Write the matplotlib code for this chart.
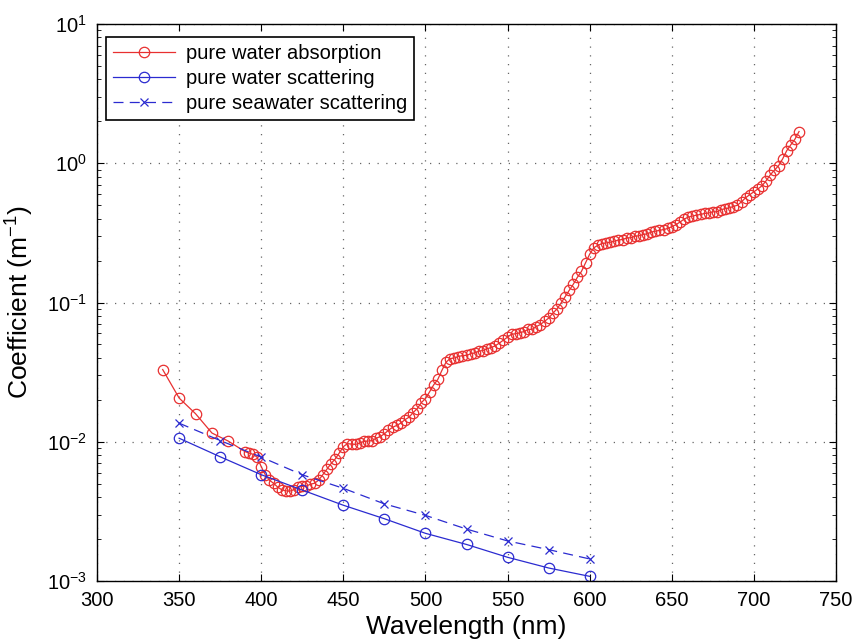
import matplotlib
matplotlib.use("Agg")
import matplotlib.pyplot as plt
import numpy as np

plt.rcParams['font.family'] = ['Liberation Sans', 'DejaVu Sans']
plt.rcParams['mathtext.fontset'] = 'custom'
plt.rcParams['mathtext.rm'] = 'Liberation Sans'
plt.rcParams['mathtext.it'] = 'Liberation Sans:italic'

# ---- data ----
abs_wl = [340, 350, 360, 370, 380,
          390.0, 392.5, 395.0, 397.5, 400.0, 402.5, 405.0, 407.5, 410.0, 412.5,
          415.0, 417.5, 420.0, 422.5, 425.0, 427.5, 430.0, 432.5, 435.0, 437.5,
          440.0, 442.5, 445.0, 447.5, 450.0, 452.5, 455.0, 457.5, 460.0, 462.5,
          465.0, 467.5, 470.0, 472.5, 475.0, 477.5, 480.0, 482.5, 485.0, 487.5,
          490.0, 492.5, 495.0, 497.5, 500.0, 502.5, 505.0, 507.5, 510.0, 512.5,
          515.0, 517.5, 520.0, 522.5, 525.0, 527.5, 530.0, 532.5, 535.0, 537.5,
          540.0, 542.5, 545.0, 547.5, 550.0, 552.5, 555.0, 557.5, 560.0, 562.5,
          565.0, 567.5, 570.0, 572.5, 575.0, 577.5, 580.0, 582.5, 585.0, 587.5,
          590.0, 592.5, 595.0, 597.5, 600.0, 602.5, 605.0, 607.5, 610.0, 612.5,
          615.0, 617.5, 620.0, 622.5, 625.0, 627.5, 630.0, 632.5, 635.0, 637.5,
          640.0, 642.5, 645.0, 647.5, 650.0, 652.5, 655.0, 657.5, 660.0, 662.5,
          665.0, 667.5, 670.0, 672.5, 675.0, 677.5, 680.0, 682.5, 685.0, 687.5,
          690.0, 692.5, 695.0, 697.5, 700.0, 702.5, 705.0, 707.5, 710.0, 712.5,
          715.0, 717.5, 720.0, 722.5, 725.0, 727.5]
abs_val = [0.0330, 0.0206, 0.0159, 0.01155, 0.0101,
           0.00851, 0.00829, 0.00813, 0.00775, 0.00663, 0.00579, 0.00530, 0.00503, 0.00473, 0.00452,
           0.00444, 0.00442, 0.00454, 0.00474, 0.00478, 0.00482, 0.00495, 0.00504, 0.00530, 0.00580,
           0.00635, 0.00696, 0.00751, 0.00830, 0.00922, 0.00969, 0.00962, 0.00957, 0.00979, 0.01005,
           0.01011, 0.0102, 0.0106, 0.0109, 0.0114, 0.0121, 0.0127, 0.0131, 0.0136, 0.0144,
           0.0150, 0.0162, 0.0173, 0.0191, 0.0204, 0.0228, 0.0256, 0.0280, 0.0325, 0.0372,
           0.0396, 0.0399, 0.0409, 0.0416, 0.0417, 0.0428, 0.0434, 0.0447, 0.0452, 0.0466,
           0.0474, 0.0489, 0.0511, 0.0537, 0.0565, 0.0593, 0.0596, 0.0606, 0.0619, 0.0640,
           0.0642, 0.0672, 0.0695, 0.0733, 0.0772, 0.0836, 0.0896, 0.0989, 0.1100, 0.1220,
           0.1351, 0.1516, 0.1672, 0.1925, 0.2224, 0.2470, 0.2577, 0.2644, 0.2678, 0.2707,
           0.2755, 0.2810, 0.2834, 0.2904, 0.2916, 0.2995, 0.3012, 0.3077, 0.3108, 0.3200,
           0.3250, 0.3300, 0.3340, 0.3400, 0.3500, 0.3620, 0.3780, 0.3970, 0.4100, 0.4170,
           0.4240, 0.4290, 0.4360, 0.4390, 0.4480, 0.4480, 0.4650, 0.4710, 0.4780, 0.4890,
           0.5000, 0.5290, 0.5660, 0.5950, 0.6240, 0.6540, 0.6900, 0.7500, 0.8270, 0.8900,
           0.9600, 1.0740, 1.2310, 1.3580, 1.4900, 1.6900]

sca_wl = [350, 375, 400, 425, 450, 475, 500, 525, 550, 575, 600]
water_sca = [0.0106, 0.0078, 0.0058, 0.0045, 0.0035, 0.0028, 0.0022, 0.00183, 0.00148, 0.00124, 0.00108]
seawater_sca = [0.0136, 0.0102, 0.00776, 0.00579, 0.00463, 0.00358, 0.00296, 0.00236, 0.00194, 0.00168, 0.00144]

labels = ['pure water absorption', 'pure water scattering', 'pure seawater scattering']
xticks = [300, 350, 400, 450, 500, 550, 600, 650, 700, 750]

# ---- figure ----
fig = plt.figure(figsize=(8.58, 6.43), dpi=100)
ax = fig.add_axes([97/858, 1 - 581/643, 739/858, 557/643])

red = '#e83030'
blue = '#2b2bd0'
ax.plot(abs_wl, abs_val, '-o', color=red, lw=0.9, ms=7.5, mfc='none', mec=red, mew=0.9, label=labels[0])
ax.plot(sca_wl, water_sca, '-o', color=blue, lw=0.9, ms=7.5, mfc='none', mec=blue, mew=0.9, label=labels[1])
ax.plot(sca_wl, seawater_sca, linestyle=(0, (8, 5)), marker='x', color=blue, lw=0.9, ms=5.5, mew=0.9, label=labels[2])

ax.set_yscale('log')
ax.set_xlim(300, 750)
ax.set_ylim(1e-3, 1e1)
ax.set_xticks(xticks)

ax.grid(True, which='major', color='0.4', linestyle=(0, (1, 6)), linewidth=0.9)
ax.tick_params(which='both', direction='in', top=True, right=True, labelsize=14.5, colors='black')
ax.tick_params(which='major', length=5, width=0.8, pad=7)
ax.tick_params(which='minor', length=2.8, width=0.6)
ax.tick_params(axis='x', which='minor', bottom=False, top=False)
for s in ax.spines.values():
    s.set_linewidth(1.0)

ax.set_xlabel('Wavelength (nm)', fontsize=19, labelpad=4)
ax.set_ylabel('Coefficient (m$^{-1}$)', fontsize=19, labelpad=8)

leg = ax.legend(loc='upper left', bbox_to_anchor=(9/739, 1 - 13/557), borderaxespad=0,
                fontsize=14.5, numpoints=1, handlelength=3.1,
                handletextpad=0.5, labelspacing=0.3, borderpad=0.35,
                fancybox=False, framealpha=1)
leg.get_frame().set_edgecolor('black')
leg.get_frame().set_linewidth(1.2)

fig.savefig('out.png', dpi=100)
